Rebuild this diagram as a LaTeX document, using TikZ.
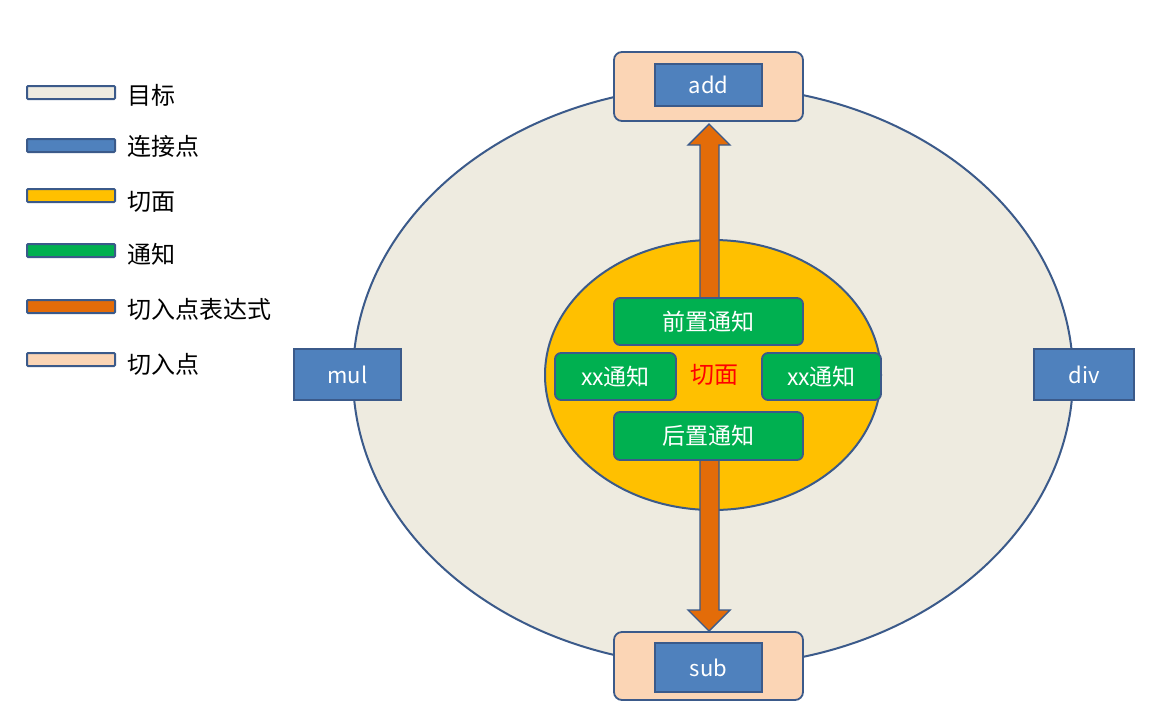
\documentclass[tikz,border=0pt]{standalone}
\usepackage{fontspec}
\setmainfont{Noto Sans CJK SC}
\definecolor{bord}{HTML}{3B5A8A}
\definecolor{tgt}{HTML}{EEEBE0}
\definecolor{jp}{HTML}{4F81BD}
\definecolor{asp}{HTML}{FFC000}
\definecolor{adv}{HTML}{00B050}
\definecolor{expr}{HTML}{E36C09}
\definecolor{pt}{HTML}{FBD5B5}
\begin{document}
\begin{tikzpicture}[x=1pt,y=-1pt,
  jpbox/.style={fill=jp,draw=bord,line width=1.8pt,text=white,font=\fontsize{22}{22}\selectfont},
  ptbox/.style={fill=pt,draw=bord,line width=1.8pt,rounded corners=8pt},
  advbox/.style={fill=adv,draw=bord,line width=1.8pt,rounded corners=6pt,text=white,font=\fontsize{23}{23}\selectfont},
  arr/.style={fill=expr,draw=bord,line width=1.4pt},
  leg/.style={draw=bord,line width=2pt,rounded corners=1pt},
  legt/.style={anchor=west,font=\fontsize{24}{24}\selectfont}]
\useasboundingbox (0,0) rectangle (1169,713);
\fill[white] (0,0) rectangle (1169,713);
\draw[fill=tgt,draw=bord,line width=2pt] (713,376) ellipse [x radius=360,y radius=290];
\draw[ptbox] (614,52) rectangle (803,121);
\draw[ptbox] (614,632) rectangle (803,700);
\node[jpbox,minimum width=107,minimum height=42] (add) at (708.5,85) {add};
\node[jpbox,minimum width=107,minimum height=49] (sub) at (708.5,667.5) {sub};
\node[jpbox,minimum width=107,minimum height=51] (mul) at (347.5,374.5) {mul};
\node[jpbox,minimum width=100,minimum height=51] (div) at (1084,374.5) {div};
\draw[fill=asp,draw=bord,line width=2pt] (713,375) ellipse [x radius=168,y radius=135];
\draw[arr] (700,298) -- (700,145) -- (688,145) -- (709,124) -- (730,145) -- (719,145) -- (719,298) -- cycle;
\draw[arr] (700,458) -- (700,610) -- (688,610) -- (709,631) -- (730,610) -- (719,610) -- (719,458) -- cycle;
\node[advbox,minimum width=189,minimum height=47] (pre) at (708.5,321.5) {前置通知};
\node[advbox,minimum width=189,minimum height=48] (post) at (708.5,436) {后置通知};
\node[advbox,minimum width=121,minimum height=47] (xl) at (615.5,376.5) {xx通知};
\node[advbox,minimum width=119,minimum height=47] (xr) at (821.5,376.5) {xx通知};
\node[text=red,font=\fontsize{24}{24}\selectfont] (asp) at (714,375) {切面};
\draw[leg,fill=tgt] (27,86) rectangle (115,99);
\draw[leg,fill=jp] (27,139) rectangle (115,152);
\draw[leg,fill=asp] (27,189) rectangle (115,202);
\draw[leg,fill=adv] (27,244) rectangle (115,257);
\draw[leg,fill=expr] (27,300) rectangle (115,313);
\draw[leg,fill=pt] (27,353) rectangle (115,366);
\node[legt] (l1) at (124,95) {目标};
\node[legt] (l2) at (124,146) {连接点};
\node[legt] (l3) at (124,202) {切面};
\node[legt] (l4) at (124,254) {通知};
\node[legt] (l5) at (124,309) {切入点表达式};
\node[legt] (l6) at (124,364) {切入点};
\end{tikzpicture}
\end{document}
